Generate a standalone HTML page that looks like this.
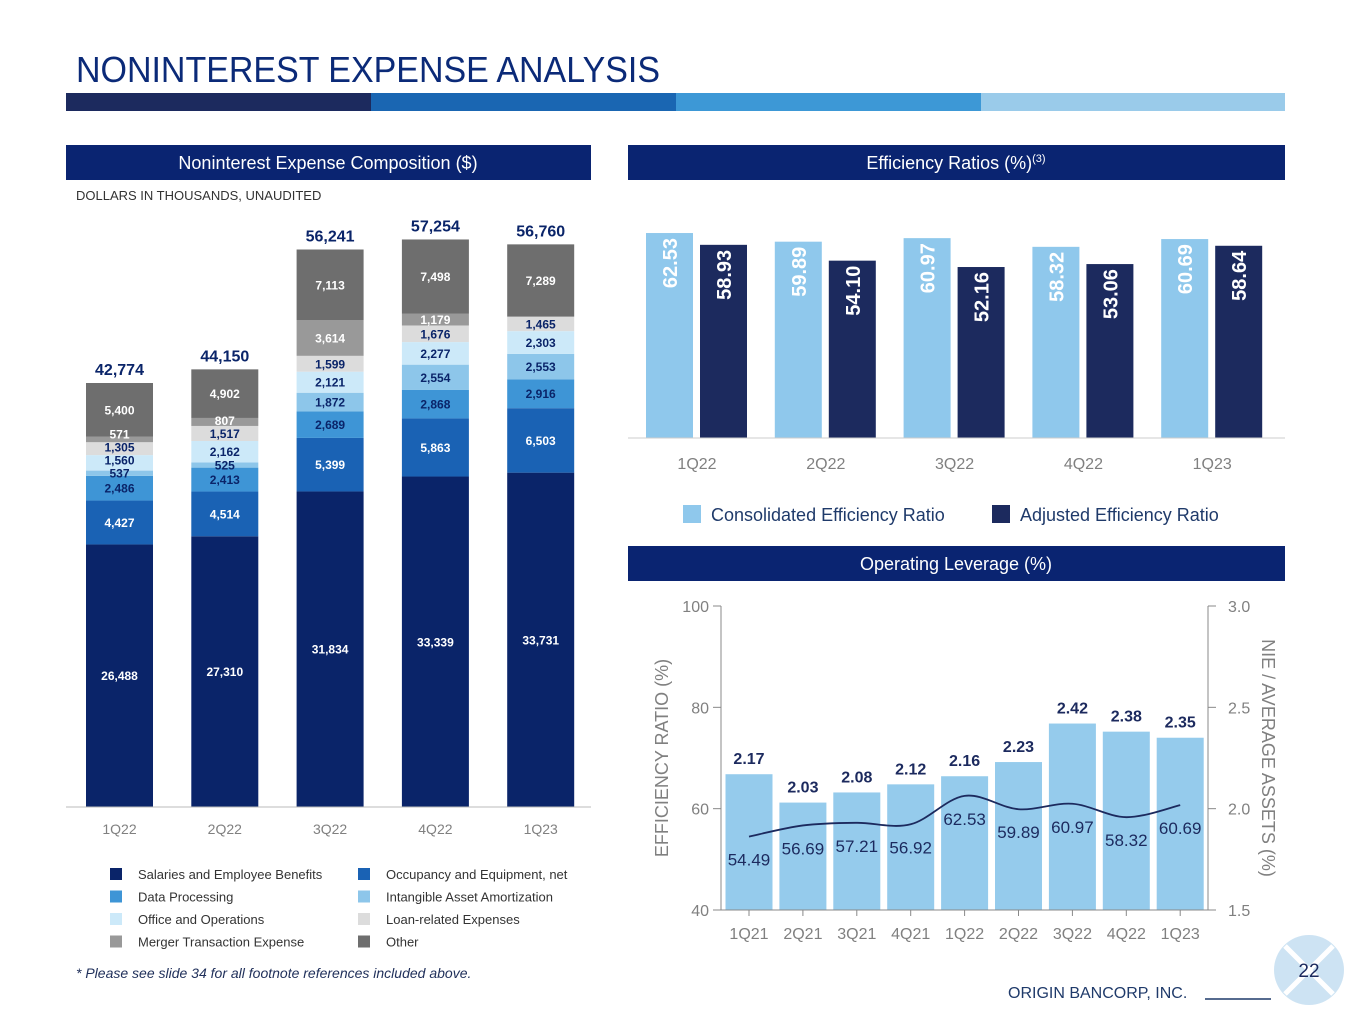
<!DOCTYPE html>
<html><head><meta charset="utf-8"><style>
html,body{margin:0;padding:0;background:#fff;}
svg{display:block;font-family:"Liberation Sans",Arial,sans-serif;}
</style></head><body>
<svg id="s" width="1365" height="1024" viewBox="0 0 1365 1024" xmlns="http://www.w3.org/2000/svg">
<text x="76" y="82" font-size="36" fill="#0b2a78" textLength="584" lengthAdjust="spacingAndGlyphs">NONINTEREST EXPENSE ANALYSIS</text>
<g>
<rect x="66" y="93" width="305" height="18" fill="#1c2a5e"/><rect x="371" y="93" width="305" height="18" fill="#1a66b2"/><rect x="676" y="93" width="305" height="18" fill="#3d98d6"/><rect x="981" y="93" width="304" height="18" fill="#9acbea"/>
</g>
<g><rect x="66" y="145" width="525" height="35" fill="#0a2471"/><text x="328" y="169" text-anchor="middle" font-size="18" fill="#fff">Noninterest Expense Composition ($)</text></g>
<g><rect x="628" y="145" width="657" height="35" fill="#0a2471"/><text x="956" y="169" text-anchor="middle" font-size="18" fill="#fff">Efficiency Ratios (%)<tspan font-size="11" dy="-7">(3)</tspan></text></g>
<g><rect x="628" y="546" width="657" height="35" fill="#0a2471"/><text x="956" y="570" text-anchor="middle" font-size="18" fill="#fff">Operating Leverage (%)</text></g>
<text x="76" y="200" font-size="13" fill="#333">DOLLARS IN THOUSANDS, UNAUDITED</text>
<g id="left"></g><g id="leftLabels"></g><g id="eff"></g><g id="lev"></g>
<g font-size="13" fill="#333" id="leg"></g>
<text x="76" y="978" font-size="14" font-style="italic" fill="#1f2f5a">* Please see slide 34 for all footnote references included above.</text>
<text x="1008" y="998" font-size="16" fill="#1f3a6a">ORIGIN BANCORP, INC.</text>
<line x1="1205" y1="999" x2="1271" y2="999" stroke="#1f3a6a" stroke-width="1.5"/>
<g><circle cx="1309" cy="970" r="35" fill="#cde3f3"/><line x1="1285" y1="946" x2="1333" y2="994" stroke="#fff" stroke-width="5"/><line x1="1333" y1="946" x2="1285" y2="994" stroke="#fff" stroke-width="5"/><text x="1309" y="977" text-anchor="middle" font-size="19" fill="#1c2a5e">22</text></g>
</svg>
<script>
const quarters=['1Q22','2Q22','3Q22','4Q22','1Q23'];
const salaries=[26488,27310,31834,33339,33731];
const occupancy=[4427,4514,5399,5863,6503];
const dataProc=[2486,2413,2689,2868,2916];
const intangible=[537,525,1872,2554,2553];
const office=[1560,2162,2121,2277,2303];
const loanRel=[1305,1517,1599,1676,1465];
const merger=[571,807,3614,1179,0];
const other=[5400,4902,7113,7498,7289];
const consEff=[62.53,59.89,60.97,58.32,60.69];
const adjEff=[58.93,54.10,52.16,53.06,58.64];
const levQuarters=['1Q21','2Q21','3Q21','4Q21','1Q22','2Q22','3Q22','4Q22','1Q23'];
const nieAssets=[2.17,2.03,2.08,2.12,2.16,2.23,2.42,2.38,2.35];
const effRatio=[54.49,56.69,57.21,56.92,62.53,59.89,60.97,58.32,60.69];
const leftTicks=[40,60,80,100];
const rightTicks=[1.5,2.0,2.5,3.0];

const NS='http://www.w3.org/2000/svg';
function mk(p,t,a,txt){const e=document.createElementNS(NS,t);for(const k in a)e.setAttribute(k,a[k]);if(txt!==undefined)e.textContent=txt;p.appendChild(e);return e;}
const fmt=v=>v.toLocaleString('en-US');

const L=document.getElementById('left');
const LL=document.getElementById('leftLabels');
const series=[salaries,occupancy,dataProc,intangible,office,loanRel,merger,other];
const sNames=['salaries','occupancy','data-processing','intangible','office','loan-related','merger','other'];
const cols=['#0a2469','#1a62b4','#3e95d6','#8dc6ea','#cce9f9','#dcdcdc','#999999','#6e6e6e'];
const lcol=['#fff','#fff','#0a2469','#0a2469','#0a2469','#0a2469','#fff','#fff'];
const baseY=807, scL=424/42774;
const xL=i=>86+i*105.3;
const yL=v=>baseY-v*scL;
quarters.forEach((q,i)=>{
  let cum=0, prevY=9999;
  series.forEach((s,k)=>{
    const v=s[i]; if(!v)return;
    const r=mk(L,'rect',{x:xL(i),y:yL(cum+v),width:67,height:v*scL,fill:cols[k]});
    
    
    let ly=yL(cum+v/2)+4.5;
    if(ly>prevY-13) ly=prevY-13;
    prevY=ly;
    const t=mk(LL,'text',{x:xL(i)+33.5,y:ly,'text-anchor':'middle','font-size':12,'font-weight':'bold',fill:lcol[k]},fmt(v));
    
    
    cum+=v;
  });
  const tt=mk(LL,'text',{x:xL(i)+33.5,y:yL(cum)-8,'text-anchor':'middle','font-size':16,'font-weight':'bold',fill:'#0a2469'},fmt(cum));
  
  
  const xt=mk(LL,'text',{x:xL(i)+33.5,y:834,'text-anchor':'middle','font-size':14,fill:'#808080'},q);
  
  
});
const axL=mk(L,'line',{x1:66,y1:baseY,x2:591,y2:baseY,stroke:'#bbb'});



const LG=document.getElementById('leg');
const legTxt=['Salaries and Employee Benefits','Occupancy and Equipment, net','Data Processing','Intangible Asset Amortization','Office and Operations','Loan-related Expenses','Merger Transaction Expense','Other'];
legTxt.forEach((t,k)=>{
  const r=Math.floor(k/2),c=k%2;
  const x=c?358:110,y=875+r*22.5;
  const g=mk(LG,'g',{});
  
  
  mk(g,'rect',{x:x,y:y-7,width:12,height:12,fill:cols[k]});
  mk(g,'text',{x:x+28,y:y+4},t);
});

const E=document.getElementById('eff');
const eb=438, es=3.278;
const cx=i=>697+i*128.8;
quarters.forEach((q,i)=>{
  [[consEff,'#8fc8ec',-51,'consolidated'],[adjEff,'#1c2a5e',3,'adjusted']].forEach(([arr,c,o,n])=>{
    const v=arr[i],h=v*es;
    const r=mk(E,'rect',{x:cx(i)+o,y:eb-h,width:47,height:h,fill:c});
    
    
    const tx=cx(i)+o+23.5+7.5,ty=eb-h+5;
    const t=mk(E,'text',{x:tx,y:ty,'text-anchor':'end','font-size':20,'font-weight':'bold',fill:'#fff',transform:`rotate(-90 ${tx} ${ty})`},v.toFixed(2));
    
    
  });
  const xt=mk(E,'text',{x:cx(i),y:469,'text-anchor':'middle','font-size':16,fill:'#808080'},q);
  
  
});
const ea=mk(E,'line',{x1:628,y1:eb,x2:1285,y2:eb,stroke:'#ccc'});


[['Consolidated Efficiency Ratio','#8fc8ec',683],['Adjusted Efficiency Ratio','#1c2a5e',992]].forEach(([t,c,x],k)=>{
  const g=mk(E,'g',{});
  
  
  mk(g,'rect',{x:x,y:505,width:18,height:18,fill:c});
  mk(g,'text',{x:x+28,y:521,'font-size':18,fill:'#1f3a6a'},t);
});

const V=document.getElementById('lev');
const plotTop=606,plotBot=910,ax1=721,ax2=1208;
const yLft=v=>plotBot-(v-40)/60*(plotBot-plotTop);
const yRt=v=>plotBot-(v-1.5)/1.5*(plotBot-plotTop);
const lx=i=>749+i*53.9;
levQuarters.forEach((q,i)=>{
  const y=yRt(nieAssets[i]);
  const r=mk(V,'rect',{x:lx(i)-23.5,y:y,width:47,height:plotBot-y,fill:'#95cbec'});
  
  
  const t=mk(V,'text',{x:lx(i),y:y-10,'text-anchor':'middle','font-size':16,'font-weight':'bold',fill:'#1c2a5e'},nieAssets[i].toFixed(2));
  
  
  const xt=mk(V,'text',{x:lx(i),y:939,'text-anchor':'middle','font-size':16,fill:'#808080'},q);
  
  
  mk(V,'line',{x1:lx(i),y1:plotBot,x2:lx(i),y2:plotBot+6,stroke:'#888'});
});
const pts=effRatio.map((v,i)=>[lx(i),yLft(v)]);
let d='M'+pts[0][0]+','+pts[0][1];
for(let i=0;i<pts.length-1;i++){
  const p0=pts[i-1]||pts[i],p1=pts[i],p2=pts[i+1],p3=pts[i+2]||p2;
  const c1=[p1[0]+(p2[0]-p0[0])/6,p1[1]+(p2[1]-p0[1])/6],c2=[p2[0]-(p3[0]-p1[0])/6,p2[1]-(p3[1]-p1[1])/6];
  d+=` C${c1[0]},${c1[1]} ${c2[0]},${c2[1]} ${p2[0]},${p2[1]}`;
}
const ln=mk(V,'path',{d:d,fill:'none',stroke:'#1c2a5e','stroke-width':1.8});


effRatio.forEach((v,i)=>{
  const t=mk(V,'text',{x:lx(i),y:yLft(v)+29,'text-anchor':'middle','font-size':17,fill:'#1c2a5e'},v.toFixed(2));
  
  
});
mk(V,'line',{x1:ax1,y1:plotTop,x2:ax1,y2:plotBot,stroke:'#888'});
mk(V,'line',{x1:ax2,y1:plotTop,x2:ax2,y2:plotBot,stroke:'#888'});
mk(V,'line',{x1:ax1-8,y1:plotBot,x2:ax2+8,y2:plotBot,stroke:'#888'});
leftTicks.forEach(v=>{
  const y=yLft(v);
  mk(V,'line',{x1:ax1-8,y1:y,x2:ax1,y2:y,stroke:'#888'});
  const t=mk(V,'text',{x:ax1-12,y:y+6,'text-anchor':'end','font-size':16,fill:'#808080'},v);
  
  
});
rightTicks.forEach(v=>{
  const y=yRt(v);
  mk(V,'line',{x1:ax2,y1:y,x2:ax2+8,y2:y,stroke:'#888'});
  const t=mk(V,'text',{x:ax2+20,y:y+6,'font-size':16,fill:'#808080'},v.toFixed(1));
  
  
});
const yl=mk(V,'text',{x:668,y:758,'text-anchor':'middle','font-size':18,fill:'#808080',transform:'rotate(-90 668 758)'},'EFFICIENCY RATIO (%)');


const yr=mk(V,'text',{x:1262,y:758,'text-anchor':'middle','font-size':18,fill:'#808080',transform:'rotate(90 1262 758)'},'NIE / AVERAGE ASSETS (%)');


</script>
</body></html>
